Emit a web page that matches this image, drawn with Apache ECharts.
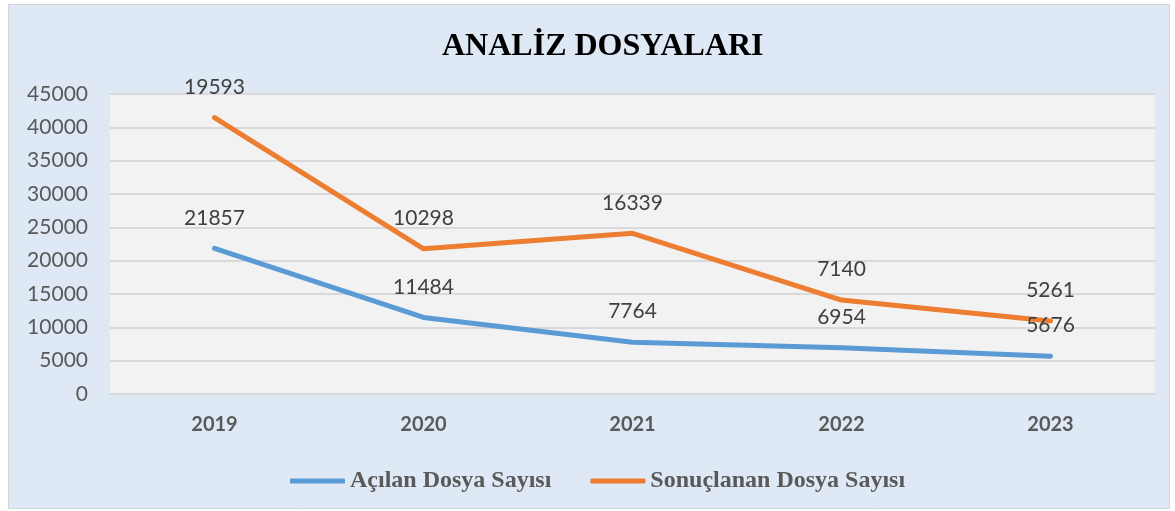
<!DOCTYPE html>
<html><head><meta charset="utf-8">
<script src="https://cdn.jsdelivr.net/npm/echarts@6/dist/echarts.min.js"></script>
<style>html,body{margin:0;padding:0;background:#fff}#c{width:1175px;height:511px}</style>
</head><body><div id="c"></div>
<script>
const years = ['2019','2020','2021','2022','2023'];
const acilan = [21857, 11484, 7764, 6954, 5676];
const sonuclanan = [19593, 10298, 16339, 7140, 5261];
const seriesNames = ['Açılan Dosya Sayısı','Sonuçlanan Dosya Sayısı'];
const chart = echarts.init(document.getElementById('c'));
const labelStyle = {show:true, position:'top', distance:20, fontFamily:'Lato, "Open Sans", sans-serif', fontSize:21, color:'#404040'};
chart.setOption({
  backgroundColor:'#fff',
  graphic:[{type:'rect', z:-10, shape:{x:8.5,y:4.5,width:1161,height:504}, style:{fill:'#dee9f5', stroke:'#d4d4d4', lineWidth:1}}],
  title:{text:'ANALİZ DOSYALARI', left:437, top:26, textStyle:{fontFamily:'"Liberation Serif", serif', fontWeight:'bold', fontSize:32, color:'#000'}},
  legend:{top:464, left:285, itemWidth:55, itemHeight:5, itemGap:39, icon:'roundRect',
    textStyle:{fontFamily:'"Liberation Serif", serif', fontWeight:'bold', fontSize:24, color:'#595959'},
    data:seriesNames},
  grid:{left:110, right:20, top:94, bottom:117, show:true, backgroundColor:'#f2f2f2', borderWidth:0},
  xAxis:{type:'category', data:years, boundaryGap:true,
    axisLine:{lineStyle:{color:'#d9d9d9', width:2}}, axisTick:{show:false},
    axisLabel:{margin:21, fontFamily:'Lato, "Open Sans", sans-serif', fontWeight:'bold', fontSize:20, color:'#595959'}},
  yAxis:{type:'value', min:0, max:45000, interval:5000,
    axisLine:{show:false}, axisTick:{show:false},
    splitLine:{lineStyle:{color:'#d9d9d9', width:2}},
    axisLabel:{margin:22, formatter:v=>String(v), fontFamily:'Lato, "Open Sans", sans-serif', fontSize:21, color:'#595959'}},
  series:[
    {name:seriesNames[0], type:'line', stack:'t', data:acilan, showSymbol:true, symbol:'circle', symbolSize:0.1,
      lineStyle:{color:'#5b9bd5', width:5, cap:'round', join:'round'}, itemStyle:{color:'#5b9bd5'}, label:labelStyle},
    {name:seriesNames[1], type:'line', stack:'t', data:sonuclanan, showSymbol:true, symbol:'circle', symbolSize:0.1,
      lineStyle:{color:'#ed7d31', width:5, cap:'round', join:'round'}, itemStyle:{color:'#ed7d31'}, label:labelStyle}
  ],
  animation:false
});
</script></body></html>
